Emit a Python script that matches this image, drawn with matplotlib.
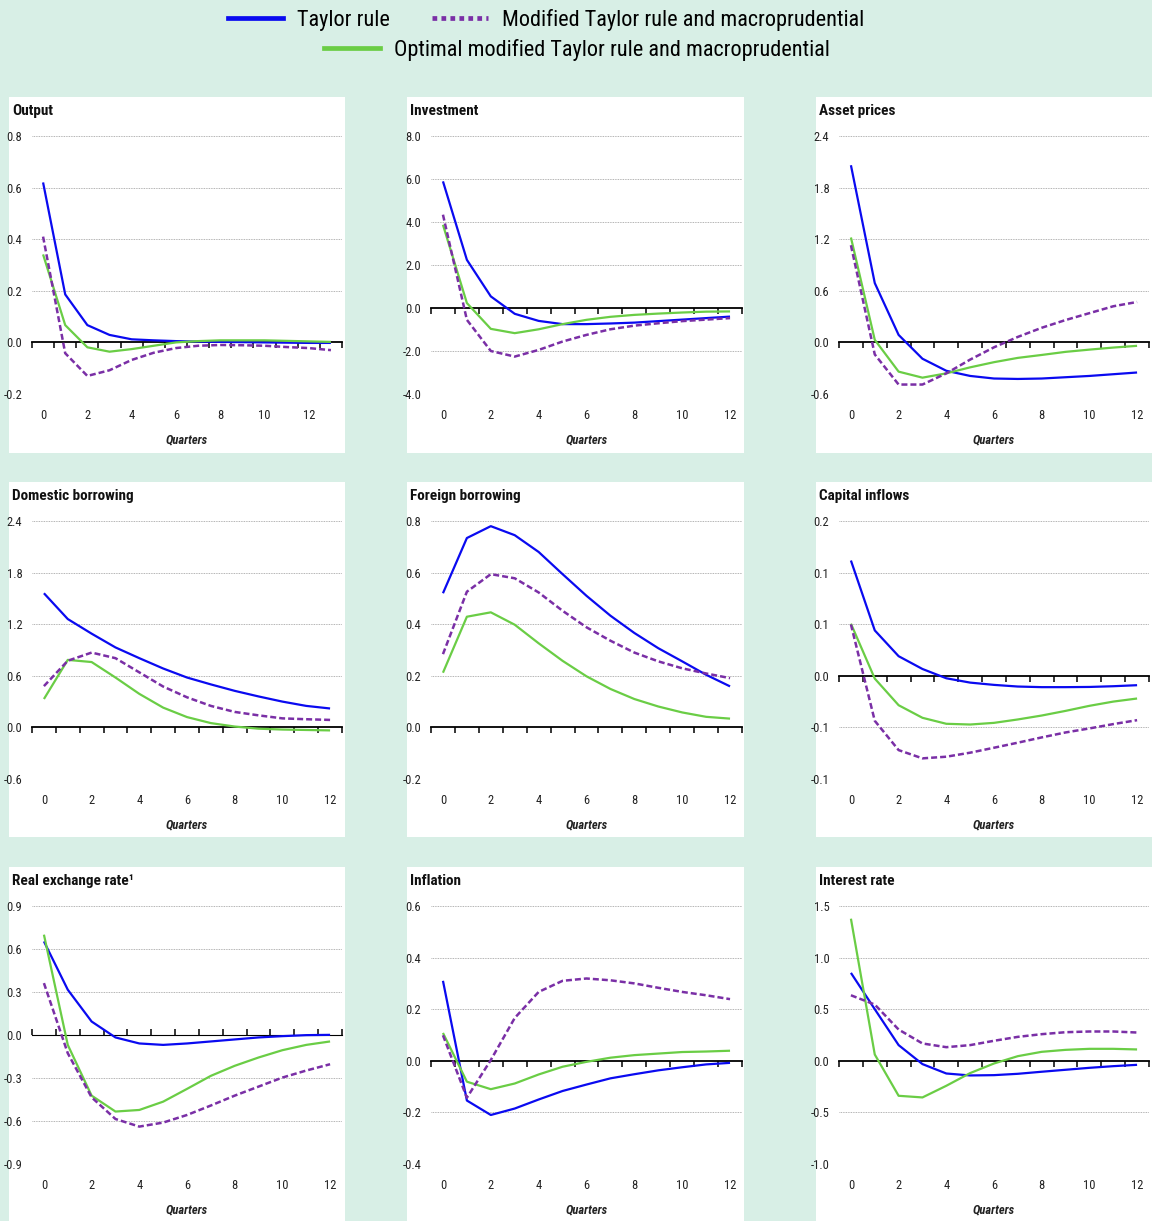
import matplotlib
matplotlib.use("Agg")
import matplotlib.pyplot as plt
from matplotlib.patches import Rectangle
from matplotlib.lines import Line2D

plt.rcParams['font.family'] = ['Roboto Condensed', 'Open Sans Condensed', 'Liberation Sans Narrow',
                               'Roboto', 'DejaVu Sans']

# ---------------- data ----------------
titles = ["Output", "Investment", "Asset prices",
          "Domestic borrowing", "Foreign borrowing", "Capital inflows",
          "Real exchange rate¹", "Inflation", "Interest rate"]

series_names = ["Taylor rule",
                "Modified Taylor rule and macroprudential",
                "Optimal modified Taylor rule and macroprudential"]

x_tick_labels = ["0", "2", "4", "6", "8", "10", "12"]

output_taylor = [0.62, 0.186, 0.067, 0.029, 0.012, 0.008, 0.005, 0.003, 0.002, 0.001, 0.0, -0.001, -0.002, -0.002]
output_modified = [0.41, -0.042, -0.13, -0.108, -0.068, -0.04, -0.022, -0.013, -0.01, -0.011, -0.013, -0.018, -0.022, -0.03]
output_optimal = [0.341, 0.067, -0.019, -0.036, -0.026, -0.013, 0.0, 0.005, 0.008, 0.008, 0.008, 0.006, 0.004, 0.002]

investment_taylor = [5.89, 2.24, 0.54, -0.27, -0.6, -0.75, -0.75, -0.72, -0.68, -0.61, -0.54, -0.47, -0.4]
investment_modified = [4.34, -0.55, -2.0, -2.26, -1.95, -1.56, -1.25, -0.99, -0.82, -0.71, -0.61, -0.54, -0.47]
investment_optimal = [3.87, 0.23, -0.97, -1.17, -0.99, -0.75, -0.55, -0.41, -0.32, -0.26, -0.21, -0.17, -0.16]

asset_taylor = [2.06, 0.69, 0.087, -0.19, -0.33, -0.39, -0.42, -0.425, -0.42, -0.405, -0.39, -0.37, -0.35]
asset_modified = [1.13, -0.14, -0.49, -0.49, -0.36, -0.2, -0.057, 0.064, 0.17, 0.26, 0.34, 0.42, 0.47]
asset_optimal = [1.22, 0.03, -0.34, -0.41, -0.36, -0.29, -0.23, -0.18, -0.146, -0.11, -0.084, -0.06, -0.04]

domestic_taylor = [1.56, 1.26, 1.09, 0.93, 0.805, 0.685, 0.58, 0.50, 0.425, 0.36, 0.30, 0.25, 0.22]
domestic_modified = [0.48, 0.775, 0.87, 0.805, 0.64, 0.475, 0.35, 0.25, 0.18, 0.14, 0.105, 0.095, 0.087]
domestic_optimal = [0.33, 0.785, 0.76, 0.58, 0.39, 0.23, 0.12, 0.05, 0.01, -0.015, -0.025, -0.03, -0.035]

foreign_taylor = [0.52, 0.734, 0.78, 0.745, 0.68, 0.594, 0.51, 0.433, 0.366, 0.307, 0.256, 0.204, 0.159]
foreign_modified = [0.284, 0.526, 0.594, 0.578, 0.523, 0.452, 0.388, 0.336, 0.29, 0.256, 0.229, 0.209, 0.191]
foreign_optimal = [0.212, 0.429, 0.446, 0.398, 0.326, 0.258, 0.198, 0.149, 0.11, 0.081, 0.058, 0.041, 0.034]

capital_taylor = [0.1117, 0.044, 0.019, 0.0066, -0.0024, -0.0066, -0.0088, -0.0104, -0.011, -0.011, -0.0108, -0.0101, -0.0091]
capital_modified = [0.0498, -0.0436, -0.072, -0.08, -0.0784, -0.0745, -0.0697, -0.0648, -0.0597, -0.0549, -0.051, -0.0468, -0.043]
capital_optimal = [0.0505, -0.0027, -0.0285, -0.0407, -0.0465, -0.0472, -0.0456, -0.0423, -0.0385, -0.034, -0.0291, -0.025, -0.022]

rer_taylor = [0.653, 0.316, 0.094, -0.017, -0.059, -0.069, -0.059, -0.045, -0.031, -0.017, -0.008, -0.001, 0.001]
rer_modified = [0.362, -0.127, -0.435, -0.586, -0.639, -0.611, -0.558, -0.492, -0.423, -0.36, -0.297, -0.248, -0.204]
rer_optimal = [0.70, -0.069, -0.423, -0.534, -0.523, -0.465, -0.376, -0.285, -0.215, -0.157, -0.106, -0.069, -0.045]

inflation_taylor = [0.31, -0.154, -0.21, -0.185, -0.15, -0.117, -0.092, -0.068, -0.052, -0.037, -0.025, -0.014, -0.008]
inflation_modified = [0.099, -0.143, 0.003, 0.166, 0.267, 0.31, 0.319, 0.312, 0.3, 0.283, 0.267, 0.254, 0.239]
inflation_optimal = [0.108, -0.081, -0.11, -0.088, -0.053, -0.023, -0.004, 0.012, 0.022, 0.028, 0.034, 0.036, 0.039]

interest_taylor = [0.852, 0.5, 0.152, -0.032, -0.123, -0.142, -0.139, -0.126, -0.106, -0.087, -0.068, -0.052, -0.039]
interest_modified = [0.635, 0.545, 0.303, 0.168, 0.132, 0.152, 0.194, 0.232, 0.258, 0.277, 0.284, 0.284, 0.274]
interest_optimal = [1.377, 0.061, -0.339, -0.355, -0.242, -0.119, -0.026, 0.045, 0.087, 0.106, 0.116, 0.116, 0.11]

y_ticks = [
    [-0.2, 0.0, 0.2, 0.4, 0.6, 0.8],
    [-4.0, -2.0, 0.0, 2.0, 4.0, 6.0, 8.0],
    [-0.6, 0.0, 0.6, 1.2, 1.8, 2.4],
    [-0.6, 0.0, 0.6, 1.2, 1.8, 2.4],
    [-0.2, 0.0, 0.2, 0.4, 0.6, 0.8],
    [-0.10, -0.05, 0.0, 0.05, 0.10, 0.15],
    [-0.9, -0.6, -0.3, 0.0, 0.3, 0.6, 0.9],
    [-0.4, -0.2, 0.0, 0.2, 0.4, 0.6],
    [-1.0, -0.5, 0.0, 0.5, 1.0, 1.5],
]
y_tick_labels = [
    ["-0.2", "0.0", "0.2", "0.4", "0.6", "0.8"],
    ["-4.0", "-2.0", "0.0", "2.0", "4.0", "6.0", "8.0"],
    ["-0.6", "0.0", "0.6", "1.2", "1.8", "2.4"],
    ["-0.6", "0.0", "0.6", "1.2", "1.8", "2.4"],
    ["-0.2", "0.0", "0.2", "0.4", "0.6", "0.8"],
    ["-0.1", "-0.1", "0.0", "0.1", "0.1", "0.2"],
    ["-0.9", "-0.6", "-0.3", "0.0", "0.3", "0.6", "0.9"],
    ["-0.4", "-0.2", "0.0", "0.2", "0.4", "0.6"],
    ["-1.0", "-0.5", "0.0", "0.5", "1.0", "1.5"],
]

panels = [
    (output_taylor, output_modified, output_optimal),
    (investment_taylor, investment_modified, investment_optimal),
    (asset_taylor, asset_modified, asset_optimal),
    (domestic_taylor, domestic_modified, domestic_optimal),
    (foreign_taylor, foreign_modified, foreign_optimal),
    (capital_taylor, capital_modified, capital_optimal),
    (rer_taylor, rer_modified, rer_optimal),
    (inflation_taylor, inflation_modified, inflation_optimal),
    (interest_taylor, interest_modified, interest_optimal),
]

# ---------------- style ----------------
W, H = 1152, 1221
BG = "#d8efe6"
BLUE = "#0a0af0"
PURPLE = "#7a2fa6"
GREEN = "#6acd45"

fig = plt.figure(figsize=(W / 100, H / 100), dpi=100)
fig.patch.set_facecolor(BG)

def fx(px):
    return px / W

def fy(py):
    return 1 - py / H

panel_x = [(9, 345), (407, 744), (816, 1152)]
panel_y = [(97, 453), (482, 837), (867, 1221)]
axes_x = [(32, 342), (431, 742), (839, 1149)]
axes_y = [(136, 394), (521, 779), (906, 1164)]
title_x = [12, 410, 819]

for r in range(3):
    for c in range(3):
        x0, x1 = panel_x[c]
        y0, y1 = panel_y[r]
        fig.patches.append(Rectangle((fx(x0), fy(y1)), fx(x1 - x0), (y1 - y0) / H,
                                     transform=fig.transFigure, facecolor="white",
                                     edgecolor="none", zorder=-10))

for i, (tr, mod, opt) in enumerate(panels):
    r, c = divmod(i, 3)
    ax0, ax1 = axes_x[c]
    ay0, ay1 = axes_y[r]
    ax = fig.add_axes([fx(ax0), fy(ay1), fx(ax1 - ax0), (ay1 - ay0) / H])
    ax.set_zorder(5)
    ax.set_facecolor("none")
    n = len(tr)
    xs = list(range(n))
    ax.plot(xs, tr, color=BLUE, lw=1.6, zorder=3, solid_capstyle="butt")
    ax.plot(xs, opt, color=GREEN, lw=1.6, zorder=3, solid_capstyle="butt")
    ax.plot(xs, mod, color=PURPLE, lw=1.8, ls=(0, (2.4, 1.2)), zorder=4)
    lo, hi = y_ticks[i][0], y_ticks[i][-1]
    ax.set_ylim(lo, hi)
    ax.set_xlim(-0.5, n - 0.5)
    ax.set_yticks(y_ticks[i])
    ax.set_yticklabels(y_tick_labels[i])
    ax.set_xticks(list(range(0, 13, 2)))
    ax.set_xticklabels(x_tick_labels)
    for s in ax.spines.values():
        s.set_visible(False)
    ax.tick_params(axis="both", length=0, labelsize=9, colors="#222222")
    ax.tick_params(axis="y", pad=7)
    ax.tick_params(axis="x", pad=11)
    for yt in y_ticks[i]:
        if abs(yt) > 1e-12:
            ax.axhline(yt, color="#9a9a9a", lw=0.6, ls=(0, (1, 1)), zorder=1)
    zero_frac = (0 - lo) / (hi - lo)
    sec = ax.secondary_xaxis(zero_frac)
    sec.set_xticks([k - 0.5 for k in range(n + 1)])
    sec.set_xticklabels([])
    sec.tick_params(axis="x", direction="out", length=4.5, width=1.1, color="black")
    sec.spines["bottom"].set_color("black")
    sec.spines["bottom"].set_linewidth(1.3)
    ax.set_xlabel("Quarters", fontsize=9, fontstyle="italic", fontweight="bold",
                  labelpad=8, color="#222222")
    fig.text(fx(title_x[c]), fy(panel_y[r][0] + 14), titles[i], fontsize=11,
             fontweight="bold", ha="left", va="center", color="#111111", zorder=6)

# ---------------- legend ----------------
h_taylor = Line2D([], [], color=BLUE, lw=3.4)
h_mod = Line2D([], [], color=PURPLE, lw=3.4, ls=(0, (1.0, 0.9)))
h_opt = Line2D([], [], color=GREEN, lw=3.4)
fig.legend([h_taylor, h_mod], series_names[:2], loc="center",
           bbox_to_anchor=(fx(546), fy(20)), ncol=2, frameon=False,
           fontsize=16, handlelength=2.5, handletextpad=0.63, columnspacing=1.9)
fig.legend([h_opt], series_names[2:], loc="center",
           bbox_to_anchor=(fx(577), fy(50)), ncol=1, frameon=False,
           fontsize=16, handlelength=2.5, handletextpad=0.63)

fig.savefig("out.png", dpi=100, facecolor=BG)
